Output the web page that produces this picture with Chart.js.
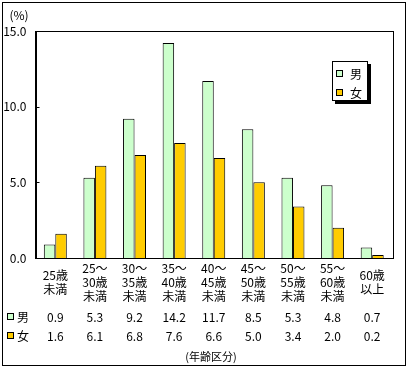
<!DOCTYPE html>
<html>
<head>
<meta charset="utf-8">
<script src="https://cdn.jsdelivr.net/npm/chart.js@4"></script>
<style>html,body{margin:0;padding:0;background:#fff;}</style>
</head>
<body>
<canvas id="mycanvas" width="408" height="371"></canvas>
<script>
// 年齢区分
var ageLabels = [
	["25歳", "未満"],
	["25～", "30歳", "未満"],
	["30～", "35歳", "未満"],
	["35～", "40歳", "未満"],
	["40～", "45歳", "未満"],
	["45～", "50歳", "未満"],
	["50～", "55歳", "未満"],
	["55～", "60歳", "未満"],
	["60歳", "以上"]
];
var male = [0.9, 5.3, 9.2, 14.2, 11.7, 8.5, 5.3, 4.8, 0.7];
var female = [1.6, 6.1, 6.8, 7.6, 6.6, 5.0, 3.4, 2.0, 0.2];
var yTicks = [0, 5, 10, 15];

var FONT = '"Noto Sans CJK JP", "Noto Sans", sans-serif';
var GREEN = "#ccffcc";
var ORANGE = "#ffcc00";

var extras = {
	id: "extras",
	afterDraw: function(chart) {
		var c = chart.ctx;
		var ca = chart.chartArea;
		var xs = chart.scales.x;
		var ys = chart.scales.y;
		c.save();
		c.strokeStyle = "#000";
		c.lineWidth = 1;

		// outer frame
		c.strokeRect(2.5, 2.5, 403, 363);

		// plot box
		c.strokeRect(Math.round(ca.left) + 0.5, Math.round(ca.top) + 0.5,
			Math.round(ca.right - ca.left), Math.round(ca.bottom - ca.top));

		// inward ticks
		c.beginPath();
		for (var i = 0; i < yTicks.length; i++) {
			var y = Math.round(ys.getPixelForValue(yTicks[i])) + 0.5;
			c.moveTo(ca.left, y);
			c.lineTo(ca.left + 4, y);
		}
		c.stroke();

		c.fillStyle = "#000";
		c.font = "12px " + FONT;
		c.textAlign = "center";
		c.textBaseline = "middle";
		c.fillText("(%)", 19, 15);

		// legend box
		c.fillStyle = "#000";
		c.fillRect(335, 64, 36, 40);
		c.fillStyle = "#fff";
		c.fillRect(332, 61, 36, 40);
		c.strokeRect(332.5, 61.5, 35, 39);
		var sets = chart.data.datasets;
		for (var k = 0; k < sets.length; k++) {
			var ly = 70 + k * 19;
			c.fillStyle = sets[k].backgroundColor;
			c.fillRect(336, ly, 7, 7);
			c.strokeRect(336.5, ly + 0.5, 6, 6);
			c.fillStyle = "#000";
			c.textAlign = "left";
			c.fillText(sets[k].label, 350, ly + 4);
		}

		// data table
		for (var k = 0; k < sets.length; k++) {
			var ry = 317 + k * 19;
			c.fillStyle = sets[k].backgroundColor;
			c.fillRect(8, ry - 3, 6, 6);
			c.strokeRect(7.5, ry - 3.5, 6, 6);
			c.fillStyle = "#000";
			c.textAlign = "left";
			c.fillText(sets[k].label, 17, ry);
			c.textAlign = "center";
			for (var j = 0; j < sets[k].data.length; j++) {
				c.fillText(sets[k].data[j].toFixed(1), xs.getPixelForValue(j), ry);
			}
		}

		c.font = "11px " + FONT;
		c.fillText("(年齢区分)", 211, 357);
		c.restore();
	}
};

var chartdata = {
	labels: ageLabels,
	datasets: [
		{
			label: "男",
			backgroundColor: GREEN,
			borderColor: "#000",
			borderWidth: 1,
			barPercentage: 1,
			categoryPercentage: 0.58,
			data: male
		},
		{
			label: "女",
			backgroundColor: ORANGE,
			borderColor: "#000",
			borderWidth: 1,
			barPercentage: 1,
			categoryPercentage: 0.58,
			data: female
		}
	]
};

var ctx = document.getElementById("mycanvas");

var BarGraph = new Chart(ctx, {
	type: "bar",
	data: chartdata,
	plugins: [extras],
	options: {
		responsive: false,
		animation: false,
		layout: { padding: { top: 31, right: 16, left: 0, bottom: 0 } },
		plugins: {
			legend: { display: false },
			tooltip: { enabled: false }
		},
		scales: {
			x: {
				grid: { display: false, drawTicks: false },
				border: { color: "#000" },
				ticks: {
					color: "#000",
					font: { family: FONT, size: 12 },
					padding: 10,
					maxRotation: 0,
					autoSkip: false,
					crossAlign: "center"
				},
				afterFit: function(s) { s.height = 113; }
			},
			y: {
				min: 0,
				max: 15,
				afterBuildTicks: function(s) {
					s.ticks = yTicks.map(function(v) { return { value: v }; });
				},
				grid: { display: false, drawTicks: false },
				border: { color: "#000" },
				ticks: {
					color: "#000",
					font: { family: FONT, size: 12 },
					padding: 9,
					callback: function(v) { return Number(v).toFixed(1); }
				},
				afterFit: function(s) { s.width = 35.5; }
			}
		}
	}
});
</script>
</body>
</html>
